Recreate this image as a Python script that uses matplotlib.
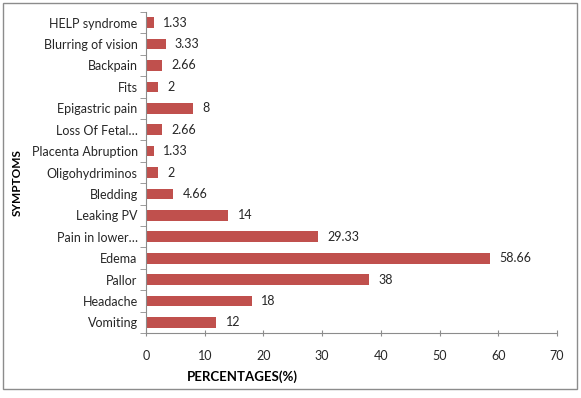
import matplotlib.pyplot as plt
from matplotlib.patches import Rectangle

# data, bottom to top
symptoms = ["Vomiting", "Headache", "Pallor", "Edema", "Pain in lower\u2026",
            "Leaking PV", "Bledding", "Oligohydriminos", "Placenta Abruption",
            "Loss Of Fetal\u2026", "Epigastric pain", "Fits", "Backpain",
            "Blurring of vision", "HELP syndrome"]
percent = [12, 18, 38, 58.66, 29.33, 14, 4.66, 2, 1.33, 2.66, 8, 2, 2.66, 3.33, 1.33]
labels = ["12", "18", "38", "58.66", "29.33", "14", "4.66", "2", "1.33",
          "2.66", "8", "2", "2.66", "3.33", "1.33"]

plt.rcParams['font.family'] = ['Lato', 'DejaVu Sans']

fig = plt.figure(figsize=(5.81, 3.98), dpi=100)
ax = fig.add_axes([0.2513, 0.163, 0.7074, 0.807])

pos = list(range(len(symptoms)))
ax.barh(pos, percent, height=0.5, color="#C0504D")
for p, v, t in zip(pos, percent, labels):
    ax.text(v + 1.6, p, t, va="center", ha="left", fontsize=9, color="#262626")

ax.set_xlim(0, 70)
ax.set_ylim(-0.5, len(symptoms) - 0.5)
ax.set_xticks(range(0, 71, 10))
ax.set_yticks(pos)
ax.set_yticklabels(symptoms)
ax.set_yticks([p - 0.5 for p in pos] + [len(symptoms) - 0.5], minor=True)
ax.tick_params(axis="y", which="major", length=0, pad=6, labelsize=9, labelcolor="#262626")
ax.tick_params(axis="y", which="minor", length=4, color="#8c8c8c", direction="out")
ax.tick_params(axis="x", length=4, color="#8c8c8c", direction="inout", pad=10,
               labelsize=9, labelcolor="#262626")
for s in ["top", "right"]:
    ax.spines[s].set_visible(False)
for s in ["left", "bottom"]:
    ax.spines[s].set_color("#8c8c8c")

ax.set_xlabel("PERCENTAGES(%)", fontsize=9.5, fontweight="bold")
ax.xaxis.set_label_coords(0.234, -0.115)
ax.set_ylabel("SYMPTOMS", fontsize=8.5, fontweight="bold")
ax.yaxis.set_label_coords(-0.3, 0.47)

fig.patches.append(Rectangle((0.005, 0.022), 0.988, 0.97, transform=fig.transFigure,
                             fill=False, edgecolor="#8c8c8c", linewidth=1))

fig.savefig("out.png", dpi=100)
